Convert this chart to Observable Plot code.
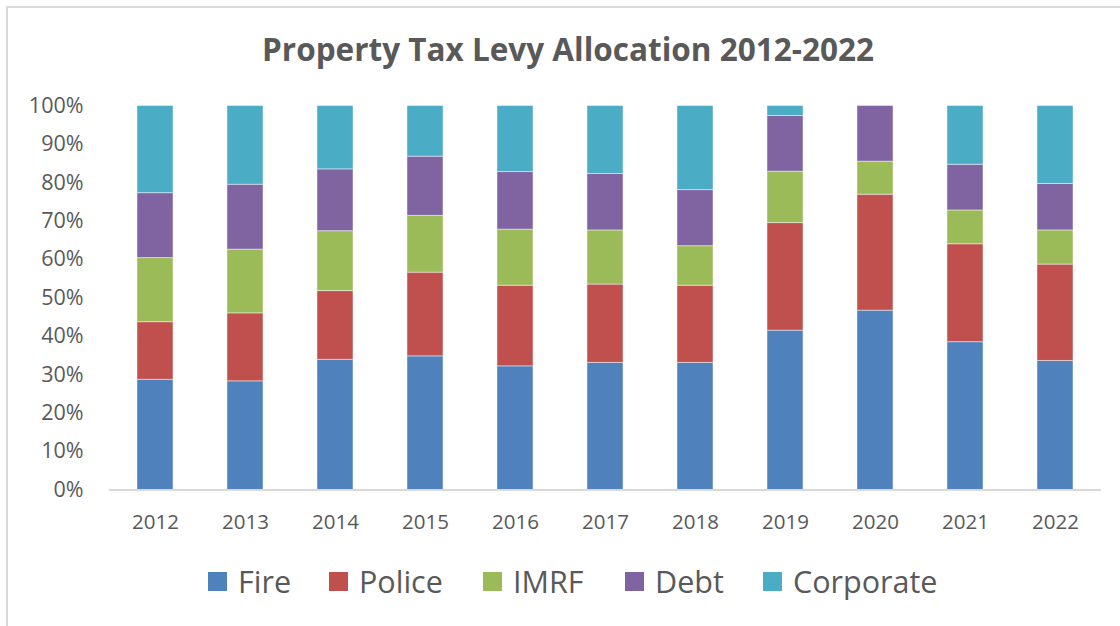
<!DOCTYPE html>
<html>
<head>
<meta charset="utf-8">
<script src="https://cdn.jsdelivr.net/npm/d3@7"></script>
<script src="https://cdn.jsdelivr.net/npm/@observablehq/plot@0.6"></script>
<style>
  html, body { margin: 0; padding: 0; background: #fff; }
  #wrap { position: relative; width: 1120px; height: 626px; overflow: hidden; font-family: "Open Sans", sans-serif; }
  #frame { position: absolute; left: 6px; top: 6px; right: 0; bottom: 0; border-left: 2px solid #d9d9d9; border-top: 2px solid #d9d9d9; }
  #title { position: absolute; left: 0; top: 0; width: 1120px; height: 85px; display: flex; align-items: center; justify-content: center; padding-top: 11px; padding-left: 16px; box-sizing: border-box;
           font-weight: 700; font-size: 31.5px; color: #595959; }
  #chart { position: absolute; left: 0; top: 85px; }
  #legend { position: absolute; left: 0; top: 545px; width: 1120px; height: 72px; }
  .item { position: absolute; top: 0; height: 72px; display: flex; align-items: center; font-size: 30.5px; color: #595959; }
  .sw { width: 19px; height: 19px; margin-right: 11px; }
</style>
</head>
<body>
<div id="wrap">
  <div id="frame"></div>
  <div id="title">Property Tax Levy Allocation 2012-2022</div>
  <div id="chart"></div>
  <div id="legend"></div>
</div>
<script>
const years = ["2012","2013","2014","2015","2016","2017","2018","2019","2020","2021","2022"];
const seriesNames = ["Fire","Police","IMRF","Debt","Corporate"];
const seriesColors = ["#4F81BD","#C0504D","#9BBB59","#8064A2","#4BACC6"];
const fire      = [28.7, 28.3, 33.9, 34.8, 32.2, 33.1, 33.1, 41.5, 46.7, 38.5, 33.6];
const police    = [15.0, 17.7, 17.9, 21.8, 21.0, 20.4, 20.1, 28.0, 30.2, 25.5, 25.1];
const imrf      = [16.7, 16.6, 15.6, 14.8, 14.6, 14.1, 10.3, 13.4,  8.6,  8.8,  8.9];
const debt      = [16.9, 16.9, 16.1, 15.4, 15.0, 14.7, 14.6, 14.5, 14.5, 11.9, 12.1];
const corporate = [22.7, 20.5, 16.5, 13.2, 17.2, 17.7, 21.9,  2.6,  0.0, 15.3, 20.3];
const yTicks = [0,10,20,30,40,50,60,70,80,90,100];

const seriesValues = [fire, police, imrf, debt, corporate];
const data = [];
years.forEach((yr, i) => {
  seriesNames.forEach((s, j) => data.push({year: yr, series: s, value: seriesValues[j][i]}));
});

const plot = Plot.plot({
  width: 1120,
  height: 460,
  marginTop: 20.5,
  marginBottom: 55.5,
  marginLeft: 109,
  marginRight: 19,
  style: {fontFamily: "'Open Sans', sans-serif", fontSize: "20px", color: "#595959", background: "transparent"},
  x: {domain: years, paddingInner: 0.6, paddingOuter: 0.3, label: null},
  y: {domain: [0, 100], label: null},
  color: {domain: seriesNames, range: seriesColors},
  marks: [
    Plot.barY(data, {x: "year", y: "value", fill: "series", stroke: "white", strokeOpacity: 0.45, strokeWidth: 1}),
    Plot.ruleY([0], {stroke: "#d9d9d9", strokeWidth: 2}),
    Plot.axisY(yTicks, {tickSize: 0, tickPadding: 26, tickFormat: d => d + "%", fill: "#595959", fontSize: 21.5}),
    Plot.axisX({tickSize: 0, tickPadding: 24, fill: "#595959", fontSize: 20.5})
  ]
});
document.getElementById("chart").appendChild(plot);

const legendX = [208, 329, 483, 625, 763];
const legend = document.getElementById("legend");
seriesNames.forEach((s, i) => {
  const it = document.createElement("div");
  it.className = "item";
  it.style.left = legendX[i] + "px";
  const sw = document.createElement("div");
  sw.className = "sw";
  sw.style.background = seriesColors[i];
  it.appendChild(sw);
  it.appendChild(document.createTextNode(s));
  legend.appendChild(it);
});
</script>
</body>
</html>
